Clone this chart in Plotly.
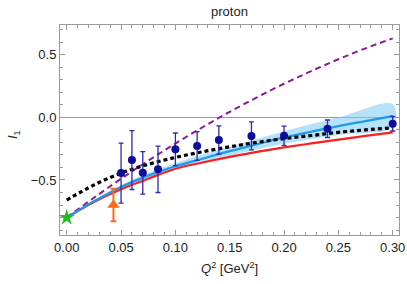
import plotly.graph_objects as go

# ---- data ----
curve_x = [0, 0.025, 0.05, 0.075, 0.1, 0.125, 0.15, 0.175, 0.2, 0.225, 0.25, 0.275, 0.3]
purple_y = [-0.80, -0.642, -0.490, -0.346, -0.209, -0.079, 0.044, 0.159, 0.268, 0.369, 0.464, 0.551, 0.63]
red_y = [-0.80, -0.675, -0.573, -0.49, -0.41, -0.36, -0.315, -0.276, -0.24, -0.208, -0.178, -0.148, -0.12]
blue_y = [-0.80, -0.67, -0.555, -0.465, -0.39, -0.33, -0.27, -0.215, -0.16, -0.115, -0.07, -0.03, 0.01]
black_y = [-0.66, -0.54, -0.445, -0.375, -0.32, -0.275, -0.235, -0.2, -0.17, -0.145, -0.12, -0.10, -0.083]
band_x = [0, 0.05, 0.1, 0.15, 0.2, 0.25, 0.3]
band_hi = [-0.80, -0.54, -0.365, -0.235, -0.11, 0.0, 0.105]
band_lo = [-0.80, -0.57, -0.415, -0.305, -0.21, -0.14, -0.075]

data_x = [0.05, 0.06, 0.07, 0.084, 0.10, 0.12, 0.14, 0.17, 0.20, 0.24, 0.30]
data_y = [-0.445, -0.341, -0.443, -0.415, -0.255, -0.229, -0.181, -0.148, -0.147, -0.091, -0.051]
data_err = [0.24, 0.235, 0.17, 0.185, 0.13, 0.115, 0.113, 0.112, 0.077, 0.07, 0.058]

tri_x = [0.043]
tri_y = [-0.70]
tri_err_plus = [0.13]
tri_err_minus = [0.13]

star_x = [0.0]
star_y = [-0.80]

x_ticks = [0.0, 0.05, 0.10, 0.15, 0.20, 0.25, 0.30]
x_ticklabels = ["0.00", "0.05", "0.10", "0.15", "0.20", "0.25", "0.30"]
y_ticks = [-0.5, 0.0, 0.5]
y_ticklabels = ["\u22120.5", "0.0", "0.5"]

FONT = "Liberation Sans, Arial"
TXT = "#222"

fig = go.Figure()

# band
fig.add_trace(go.Scatter(x=band_x + band_x[::-1], y=band_hi + band_lo[::-1],
                         fill="toself", fillcolor="rgba(120,200,245,0.55)",
                         line=dict(width=0), mode="lines", hoverinfo="skip",
                         showlegend=False, line_shape="spline"))
fig.add_trace(go.Scatter(x=curve_x, y=purple_y, mode="lines",
                         line=dict(color="#8a1a96", width=2, dash="6px,4px", shape="spline"),
                         showlegend=False))
fig.add_trace(go.Scatter(x=curve_x, y=red_y, mode="lines",
                         line=dict(color="#ff1e1e", width=2.2, shape="spline"),
                         showlegend=False))
fig.add_trace(go.Scatter(x=curve_x, y=blue_y, mode="lines",
                         line=dict(color="#1e9be8", width=2.2, shape="spline"),
                         showlegend=False))
fig.add_trace(go.Scatter(x=curve_x, y=black_y, mode="lines",
                         line=dict(color="black", width=3.2, dash="4px,3px", shape="spline"),
                         showlegend=False))
fig.add_trace(go.Scatter(x=data_x, y=data_y, mode="markers",
                         marker=dict(color="#0d0d9c", size=8, symbol="circle"),
                         error_y=dict(type="data", array=data_err, color="#2a2ab8",
                                      thickness=1.3, width=2.5),
                         showlegend=False))
fig.add_trace(go.Scatter(x=tri_x, y=tri_y, mode="markers",
                         marker=dict(color="#ff6a1a", size=11, symbol="triangle-up"),
                         error_y=dict(type="data", array=tri_err_plus, arrayminus=tri_err_minus,
                                      color="#ff6a1a", thickness=2, width=3),
                         showlegend=False))
fig.add_trace(go.Scatter(x=star_x, y=star_y, mode="markers",
                         marker=dict(color="#1fbf1f", size=12, symbol="star"),
                         showlegend=False, cliponaxis=False))

axis_common = dict(showline=True, linecolor="#9a9a9a", linewidth=1, mirror="allticks",
                   ticks="inside", tickcolor="#9a9a9a", ticklen=5, showgrid=False,
                   automargin=False,
                   tickfont=dict(family=FONT, size=13, color=TXT))

fig.update_xaxes(range=[-0.0062, 0.3058], tickvals=x_ticks, ticktext=x_ticklabels,
                 zeroline=False,
                 minor=dict(ticks="inside", ticklen=3, dtick=0.01, tick0=0, tickcolor="#9a9a9a"),
                 **axis_common)
fig.update_yaxes(range=[-0.939, 0.737], tickvals=y_ticks, ticktext=y_ticklabels,
                 zeroline=True, zerolinecolor="#9a9a9a", zerolinewidth=1,
                 minor=dict(ticks="inside", ticklen=3, dtick=0.1, tick0=0, tickcolor="#9a9a9a"),
                 **axis_common)

fig.update_layout(width=407, height=284,
                  margin=dict(l=60, r=8, t=25, b=49, autoexpand=False),
                  paper_bgcolor="white", plot_bgcolor="white",
                  showlegend=False,
                  annotations=[
                      dict(text="proton", xref="paper", yref="paper", x=0.5, y=1,
                           xanchor="center", yanchor="bottom", yshift=4, showarrow=False,
                           font=dict(family=FONT, size=13, color=TXT)),
                      dict(text="<i>Q</i><sup>2</sup> [GeV<sup>2</sup>]", xref="paper", yref="paper",
                           x=0.5, y=0, xanchor="center", yanchor="top", yshift=-23, showarrow=False,
                           font=dict(family=FONT, size=13, color=TXT)),
                      dict(text="<i>I</i><sub>1</sub>", xref="paper", yref="paper",
                           x=0, y=0.5, xanchor="center", yanchor="middle", xshift=-47, yshift=-5,
                           textangle=-90, showarrow=False,
                           font=dict(family=FONT, size=13, color=TXT)),
                  ])

fig.write_html("out.html", config={"displayModeBar": False},
               post_script="document.body.style.margin='0';document.body.style.overflow='hidden';")
